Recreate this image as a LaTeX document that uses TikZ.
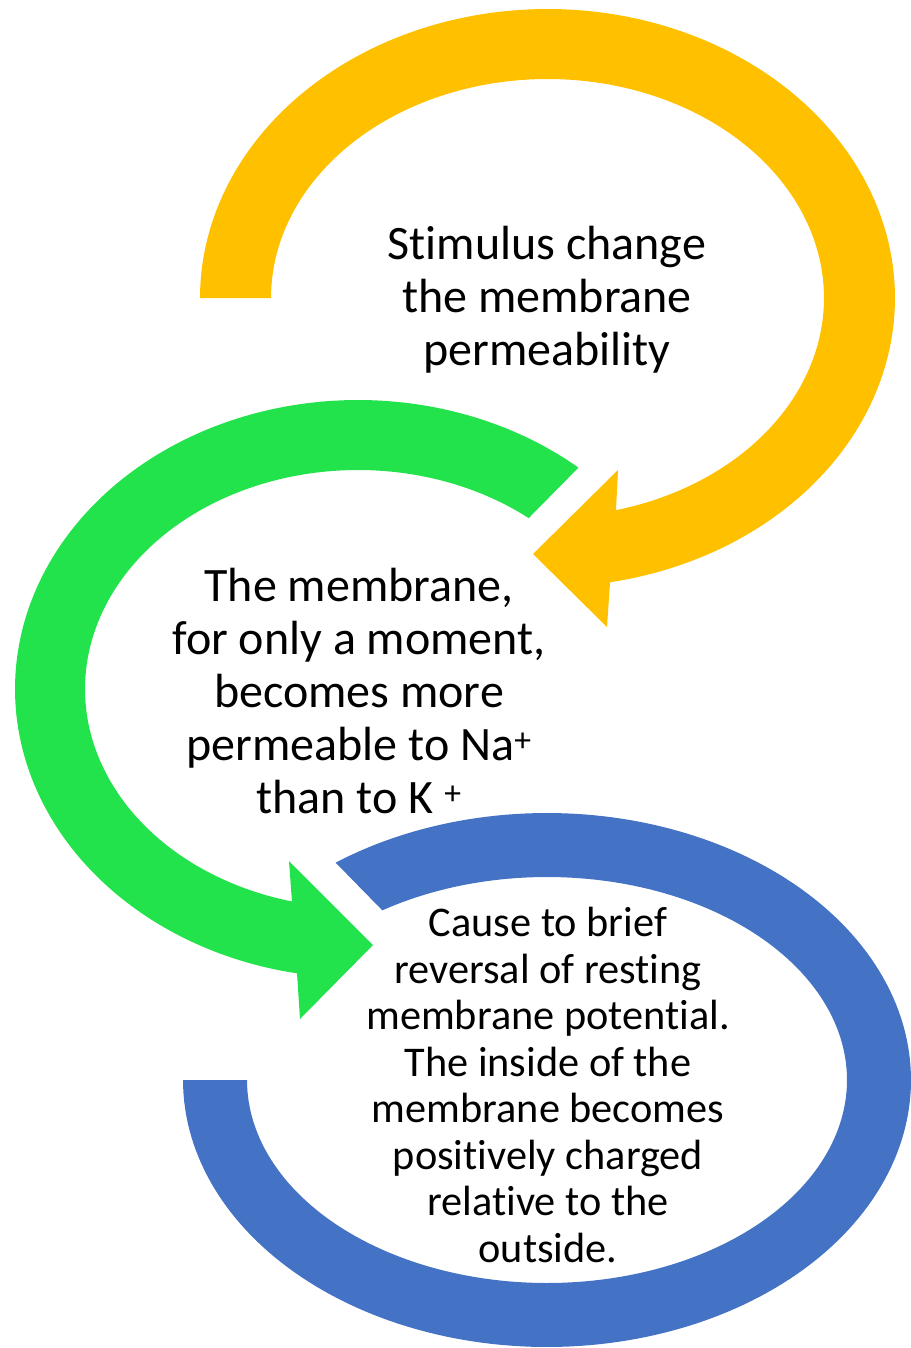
\documentclass[tikz,border=0pt]{standalone}
\usepackage{fontspec}
\setmainfont{Carlito}[Ligatures=NoCommon,RawFeature=-clig]
\definecolor{yel}{HTML}{FFC000}
\definecolor{grn}{HTML}{23E34C}
\definecolor{blu}{HTML}{4472C4}
\begin{document}
\begin{tikzpicture}[x=1pt,y=-1pt,
  bigtxt/.style={align=center,text=black,inner sep=0pt,font=\fontsize{48}{52.8}\selectfont},
  smalltxt/.style={align=center,text=black,inner sep=0pt,font=\fontsize{42.3}{46.5}\selectfont}]
\useasboundingbox (0,0) rectangle (910,1348);
% yellow arrow
\fill[yel] plot[domain=180:-79.63,samples=150,variable=\x] ({547.5+347.5*cos(\x)},{298-289*sin(\x)})
  -- (607,627) -- (533,554) -- (618,470)
  -- plot[domain=-75.66:180,samples=150,variable=\x] ({547.5+276.5*cos(\x)},{298-219*sin(\x)}) -- cycle;
% green arrow
\fill[grn] plot[domain=50:259.76,samples=150,variable=\x] ({358+343*cos(\x)},{689-289*sin(\x)})
  -- (300,1019) -- (373,945) -- (289,861)
  -- plot[domain=256:51.3,samples=150,variable=\x] ({358+273*cos(\x)},{689-219*sin(\x)}) -- cycle;
% blue arrow
\fill[blu] plot[domain=125.5:-180,samples=200,variable=\x] ({547+364*cos(\x)},{1080-267*sin(\x)})
  -- plot[domain=-180:123.3,samples=200,variable=\x] ({547+300*cos(\x)},{1080-203*sin(\x)}) -- cycle;
% texts
\node[bigtxt] (t1) at (547,300) {Stimulus change\\the membrane\\permeability};
\node[bigtxt] (t2) at (359,691) {The membrane,\\for only a moment,\\becomes more\\permeable to Na\textsuperscript{+}\\than to K \textsuperscript{+}};
\node[smalltxt] (t3) at (548,1085) {Cause to brief\\reversal of resting\\membrane potential.\\The inside of the\\membrane becomes\\positively charged\\relative to the\\outside.};
\end{tikzpicture}
\end{document}
